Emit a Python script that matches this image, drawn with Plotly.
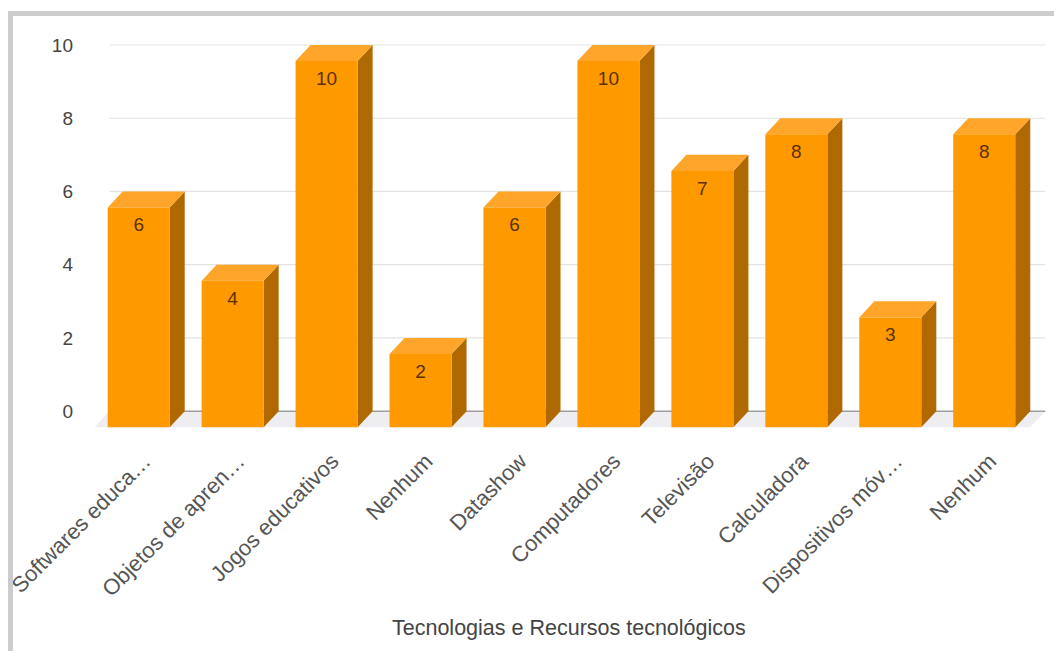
import plotly.graph_objects as go

categories = ["Softwares educa…", "Objetos de apren…", "Jogos educativos", "Nenhum",
              "Datashow", "Computadores", "Televisão", "Calculadora",
              "Dispositivos móv…", "Nenhum"]
values = [6, 4, 10, 2, 6, 10, 7, 8, 3, 8]
y_ticks = [0, 2, 4, 6, 8, 10]
x_title = "Tecnologias e Recursos tecnológicos"

W, H = 1054, 651
ML, MR, MT, MB = 87, 4, 34, 216
XR = [-0.55, 9.7]
YR = [-0.65, 10.3]
pw, ph = W - ML - MR, H - MT - MB
def px2paper(px): return (px - ML) / pw
def py2paper(py): return (H - MB - py) / ph

BW = 0.66      # front face width (x units)
DX = 0.16      # depth offset x
DY = 0.44      # depth offset y
GX0, GX1 = -0.31, 9.65
LABEL_SHIFT = 0.06

FRONT = "#FF9900"
SIDE = "#B06900"
TOP = "#FFA52A"
FONT = "Arial, 'Liberation Sans', sans-serif"

fig = go.Figure()

# floor
fig.add_trace(go.Scatter(
    x=[GX0, GX1, GX1 - DX, GX0 - DX, GX0],
    y=[0, 0, -DY, -DY, 0],
    fill="toself", fillcolor="#EEEEF2", line=dict(width=0),
    mode="lines", hoverinfo="skip", showlegend=False))

# gridlines at the back plane
gx, gy = [], []
for t in y_ticks[1:]:
    gx += [GX0, GX1, None]
    gy += [t, t, None]
fig.add_trace(go.Scatter(x=gx, y=gy, mode="lines",
                         line=dict(color="#E3E3E3", width=1.2),
                         hoverinfo="skip", showlegend=False))
fig.add_trace(go.Scatter(x=[GX0, GX1], y=[0, 0], mode="lines",
                         line=dict(color="#9E9E9E", width=1.5),
                         hoverinfo="skip", showlegend=False))

fx, fy, sx, sy, tx, ty = [], [], [], [], [], []
for i, v in enumerate(values):
    x0, x1 = i - BW / 2, i + BW / 2
    y0, y1 = -DY, v - DY
    fx += [x0, x1, x1, x0, x0, None]
    fy += [y0, y0, y1, y1, y0, None]
    sx += [x1, x1 + DX, x1 + DX, x1, x1, None]
    sy += [y0, y0 + DY, y1 + DY, y1, y0, None]
    tx += [x0, x1, x1 + DX, x0 + DX, x0, None]
    ty += [y1, y1, y1 + DY, y1 + DY, y1, None]

for xs, ys, c in [(sx, sy, SIDE), (tx, ty, TOP), (fx, fy, FRONT)]:
    fig.add_trace(go.Scatter(x=xs, y=ys, fill="toself", fillcolor=c,
                             line=dict(width=0), mode="lines",
                             hoverinfo="skip", showlegend=False))

fig.add_trace(go.Scatter(
    x=list(range(len(values))), y=[v - DY - 0.52 for v in values],
    mode="text", text=[str(v) for v in values],
    textfont=dict(family=FONT, size=19, color="#5C3000"),
    hoverinfo="skip", showlegend=False))

fig.update_layout(
    width=W, height=H,
    margin=dict(l=ML, r=MR, t=MT, b=MB),
    paper_bgcolor="white", plot_bgcolor="white",
    xaxis=dict(range=XR, tickmode="array",
               tickvals=[i + LABEL_SHIFT for i in range(len(values))],
               ticktext=categories, tickangle=-45, showgrid=False,
               zeroline=False, showline=False, ticks="", ticklabelstandoff=8,
               tickfont=dict(family=FONT, size=22, color="#555555")),
    yaxis=dict(range=YR, tickmode="array", tickvals=y_ticks,
               ticktext=[str(t) for t in y_ticks], showgrid=False,
               zeroline=False, showline=False, ticks="", ticklabelstandoff=13,
               tickfont=dict(family=FONT, size=19, color="#444444")),
    shapes=[
        dict(type="rect", xref="paper", yref="paper",
             x0=px2paper(8), x1=px2paper(W + 2), y0=py2paper(16), y1=py2paper(11),
             fillcolor="#CCCCCC", line=dict(width=0), layer="above"),
        dict(type="rect", xref="paper", yref="paper",
             x0=px2paper(8), x1=px2paper(13), y0=py2paper(H + 2), y1=py2paper(11),
             fillcolor="#CCCCCC", line=dict(width=0), layer="above"),
    ],
    annotations=[dict(text=x_title, xref="paper", yref="paper",
                      x=px2paper(569), y=py2paper(628), showarrow=False,
                      xanchor="center", yanchor="middle",
                      font=dict(family=FONT, size=21.5, color="#444444"))],
)

fig.write_html("out.html")
